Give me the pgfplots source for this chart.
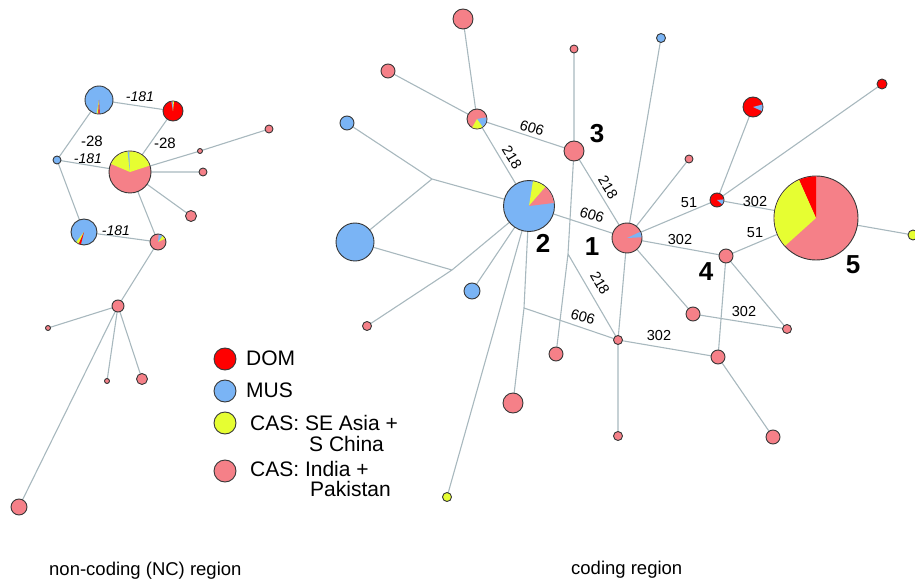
\documentclass[border=0pt]{standalone}
\usepackage{pgfplots}
\pgfplotsset{compat=1.18}
\usepackage{pgfplotstable}
\usepackage{fontspec}
\setmainfont{Liberation Sans}

\definecolor{edgec}{RGB}{168,184,190}
\definecolor{rim}{RGB}{55,55,55}
\newcommand{\fs}[1]{\fontsize{#1}{#1}\selectfont}

% a filled disc and a pie wedge whose size and angles come from the table
\pgfdeclareplotmark{disc}{%
  \pgfpathcircle{\pgfpointorigin}{\noderad pt}%
  \pgfusepathqfillstroke}
\pgfdeclareplotmark{wedge}{%
  \pgfpathmoveto{\pgfpointorigin}%
  \pgfpathlineto{\pgfpointpolar{\slicefrom}{\noderad pt-0.45pt}}%
  \pgfpatharc{\slicefrom}{\sliceto}{\noderad pt-0.45pt}%
  \pgfpathclose
  \pgfusepathqfill}

% network links (nan rows break the line)
\pgfplotstableread{
x y
99 100
173 111
nan nan
99 100
57 160
130 172
173 111
nan nan
57 160
84 232
158 242
130 172
nan nan
130 172
200 151
269 129
nan nan
130 172
203 172
nan nan
130 172
191 216
nan nan
158 242
118 306
48 328
nan nan
118 306
107 381
nan nan
118 306
142 379
nan nan
118 306
19 507
nan nan
463 19
477 119
388 71
nan nan
477 119
574 151
627 238
529 206
477 119
nan nan
347 123
432 179
529 206
nan nan
432 179
355 242
452 270
nan nan
529 206
452 270
367 326
nan nan
529 206
472 291
nan nan
529 206
447 497
nan nan
529 206
524 308
513 403
nan nan
524 308
618 340
618 436
nan nan
574 49
574 151
568 254
556 354
nan nan
568 254
618 340
627 238
661 38
nan nan
627 238
689 159
nan nan
627 238
717 200
753 107
nan nan
717 200
882 84
nan nan
717 200
816 218
913 235
nan nan
627 238
726 256
816 218
nan nan
726 256
787 329
693 314
627 238
nan nan
726 256
718 357
618 340
nan nan
718 357
773 437
}\links

% nodes: position, radius, colour class (0 DOM, 1 MUS, 2 CAS SE Asia, 3 CAS India)
\pgfplotstableread{
x y r c
99 100 14 1
173 111 10 0
57 160 4 1
130 172 21 3
200 151 2.5 3
269 129 4 3
203 172 4 3
191 216 5.5 3
84 232 13 1
158 242 8 3
118 306 6 3
48 328 2.5 3
107 381 2.5 3
142 379 5.5 3
19 507 8 3
463 19 10 3
388 71 7 3
347 123 7 1
477 119 10 3
574 151 10 3
529 206 25.5 1
355 242 19 1
472 291 8 1
367 326 4.5 3
556 354 7 3
513 403 10 3
447 497 4.5 2
618 340 4.5 3
618 436 4.5 3
627 238 15 3
574 49 4 3
661 38 4.5 1
689 159 4 3
717 200 7 0
753 107 10 0
882 84 5 0
816 218 42 3
726 256 7 3
693 314 7 3
787 329 4.5 3
718 357 7 3
773 437 7 3
913 235 5 2
225 359 11 0
225 391 11 1
225 423 11 2
225 471 11 3
}\nodes

% pie slices laid over the nodes: start and end angle in degrees
\pgfplotstableread{
x y r a b c
99 100 14 260 267 2
99 100 14 267 273 0
173 111 10 84 92 2
173 111 10 92 100 1
130 172 21 18 157 2
130 172 21 92 97 1
84 232 13 232 246 2
84 232 13 246 256 0
158 242 8 25 55 2
158 242 8 55 85 1
477 119 10 -55 10 1
477 119 10 -120 -55 2
529 206 25.5 49 81 2
529 206 25.5 7 49 3
627 238 15 3 25 1
717 200 7 -40 5 1
753 107 10 -25 15 1
816 218 42 90 114 0
816 218 42 114 222 2
}\slices

\begin{document}
\begin{tikzpicture}
\begin{axis}[
  scale only axis, width=915pt, height=585pt,
  xmin=0, xmax=915, ymin=0, ymax=585, y dir=reverse,
  hide axis, clip=false,
  colormap={cats}{rgb255=(255,0,0) rgb255=(122,180,245) rgb255=(230,255,50) rgb255=(245,128,136)},
  point meta min=0, point meta max=3,
]
\addplot[edgec, line width=1.1pt, unbounded coords=jump, mark=none] table {\links};

\addplot[scatter, only marks, mark=disc, point meta=\thisrow{c},
  visualization depends on={\thisrow{r} \as \noderad},
  scatter/use mapped color={fill=mapped color, draw=rim},
  mark options={line width=0.9pt}] table {\nodes};

\addplot[scatter, only marks, mark=wedge, point meta=\thisrow{c},
  visualization depends on={\thisrow{r} \as \noderad},
  visualization depends on={\thisrow{a} \as \slicefrom},
  visualization depends on={\thisrow{b} \as \sliceto},
  scatter/use mapped color={fill=mapped color, draw=none}] table {\slices};

% mutation labels, non-coding region
\node[font=\fs{14}\itshape] at (axis cs:140,97) {-181};
\node[font=\fs{15}] at (axis cs:92,141) {-28};
\node[font=\fs{15}] at (axis cs:165,143) {-28};
\node[font=\fs{14}\itshape] at (axis cs:88,159) {-181};
\node[font=\fs{14}\itshape] at (axis cs:116,231) {-181};

% mutation labels, coding region
\node[font=\fs{14.5}, rotate=-18] at (axis cs:532,128) {606};
\node[font=\fs{14.5}, rotate=-59] at (axis cs:512,157) {218};
\node[font=\fs{14.5}, rotate=-59] at (axis cs:608,187) {218};
\node[font=\fs{14.5}, rotate=-18] at (axis cs:592,215) {606};
\node[font=\fs{14.5}, rotate=-60] at (axis cs:600,283) {218};
\node[font=\fs{14.5}, rotate=-17] at (axis cs:583,317) {606};
\node[font=\fs{14.5}] at (axis cs:680,240) {302};
\node[font=\fs{14.5}] at (axis cs:689,203) {51};
\node[font=\fs{14.5}] at (axis cs:755,202) {302};
\node[font=\fs{14.5}] at (axis cs:755,233) {51};
\node[font=\fs{14.5}] at (axis cs:744,312) {302};
\node[font=\fs{14.5}] at (axis cs:659,336) {302};

% haplogroup numbers
\node[font=\fs{26}\bfseries] at (axis cs:592,247) {1};
\node[font=\fs{26}\bfseries] at (axis cs:543,243) {2};
\node[font=\fs{26}\bfseries] at (axis cs:597,134) {3};
\node[font=\fs{26}\bfseries] at (axis cs:706,272) {4};
\node[font=\fs{26}\bfseries] at (axis cs:853,265) {5};

% key
\node[font=\fs{21}, anchor=base west, inner sep=0pt] at (axis cs:246,365) {DOM};
\node[font=\fs{21}, anchor=base west, inner sep=0pt] at (axis cs:246,397) {MUS};
\node[font=\fs{21}, anchor=base west, inner sep=0pt] at (axis cs:250,430) {CAS: SE Asia +};
\node[font=\fs{21}, anchor=base west, inner sep=0pt] at (axis cs:309,451.5) {S China};
\node[font=\fs{21}, anchor=base west, inner sep=0pt] at (axis cs:250,476.5) {CAS: India +};
\node[font=\fs{21}, anchor=base west, inner sep=0pt] at (axis cs:310,496.5) {Pakistan};

% panel captions
\node[font=\fs{18.5}, anchor=base west, inner sep=0pt] at (axis cs:49,575) {non-coding (NC) region};
\node[font=\fs{18.5}, anchor=base west, inner sep=0pt] at (axis cs:571,574) {coding region};
\end{axis}
\pgfresetboundingbox
\path (current axis.south west) rectangle (current axis.north east);
\end{tikzpicture}
\end{document}
